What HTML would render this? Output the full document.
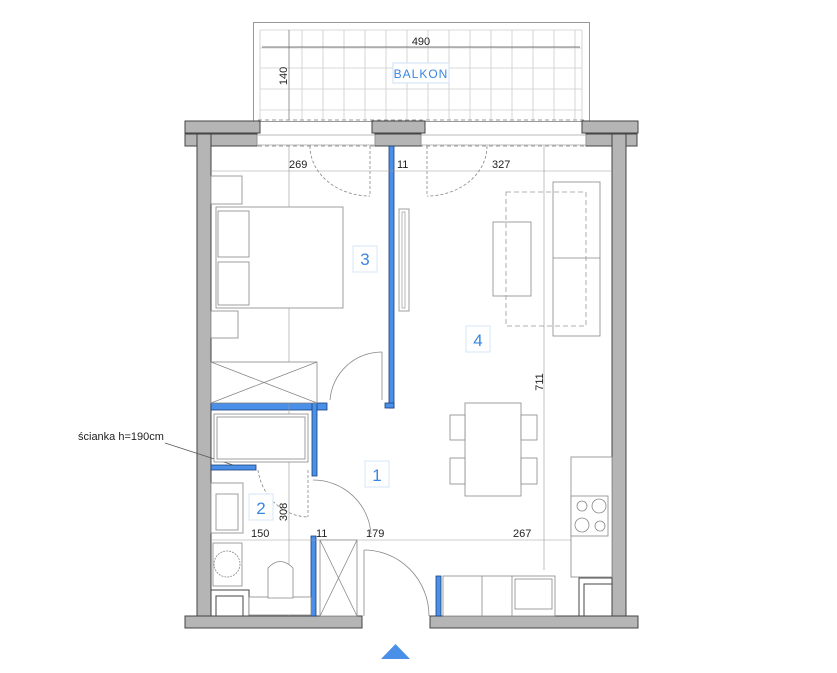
<!DOCTYPE html>
<html><head><meta charset="utf-8"><style>
html,body{margin:0;padding:0;background:#fff;}
svg{display:block;font-family:"Liberation Sans",sans-serif;}
</style></head><body>
<svg width="837" height="673" viewBox="0 0 837 673" xmlns="http://www.w3.org/2000/svg">
<!-- balcony -->
<rect x="253.5" y="22.5" width="336" height="99" fill="none" stroke="#999" stroke-width="1"/>
<g stroke="#ccc" stroke-width="0.8">
<line x1="260" y1="30" x2="260" y2="120"/><line x1="582" y1="30" x2="582" y2="120"/>
<line x1="260" y1="30" x2="582" y2="30"/>
<line x1="260" y1="48" x2="582" y2="48"/><line x1="260" y1="68" x2="582" y2="68"/>
<line x1="260" y1="89" x2="582" y2="89"/><line x1="260" y1="110" x2="582" y2="110"/>
<line x1="302" y1="30" x2="302" y2="120"/><line x1="323" y1="30" x2="323" y2="120"/><line x1="344" y1="30" x2="344" y2="120"/><line x1="365" y1="30" x2="365" y2="120"/><line x1="386" y1="30" x2="386" y2="120"/><line x1="407" y1="30" x2="407" y2="120"/><line x1="428" y1="30" x2="428" y2="120"/><line x1="449" y1="30" x2="449" y2="120"/><line x1="470" y1="30" x2="470" y2="120"/><line x1="491" y1="30" x2="491" y2="120"/><line x1="512" y1="30" x2="512" y2="120"/><line x1="533" y1="30" x2="533" y2="120"/><line x1="554" y1="30" x2="554" y2="120"/><line x1="575" y1="30" x2="575" y2="120"/>
</g>
<line x1="262" y1="47" x2="580" y2="47" stroke="#555" stroke-width="0.8"/>
<line x1="289" y1="30" x2="289" y2="120" stroke="#555" stroke-width="0.6"/>
<rect x="393" y="63" width="56" height="20" fill="#fff" stroke="#cfe0f5"/>
<text x="421" y="78" font-size="12" fill="#3a86e0" text-anchor="middle" letter-spacing="1">BALKON</text>
<text x="421" y="45" font-size="11" fill="#222" text-anchor="middle">490</text>
<text x="0" y="0" font-size="11" fill="#222" text-anchor="middle" transform="translate(287,76) rotate(-90)">140</text>
<line x1="258" y1="120" x2="585" y2="120" stroke="#999" stroke-dasharray="4,3"/>
<line x1="258" y1="146" x2="585" y2="146" stroke="#999" stroke-dasharray="4,3"/>
<!-- grey walls -->
<g fill="#b5b5b5" stroke="#444" stroke-width="1">
<rect x="185" y="121" width="75" height="12"/>
<rect x="185" y="134" width="72" height="12"/>
<rect x="372" y="121" width="53" height="12"/>
<rect x="375" y="134" width="46" height="12"/>
<rect x="582" y="121" width="56" height="12"/>
<rect x="586" y="134" width="51" height="12"/>
<rect x="197" y="134" width="14" height="494"/>
<rect x="612" y="134" width="14" height="494"/>
<rect x="185" y="616" width="177" height="12"/>
<rect x="430" y="616" width="208" height="12"/>
<rect x="211" y="590" width="38" height="26" fill="#fff"/>
<rect x="579" y="578" width="33" height="38" fill="#fff"/>
</g>
<rect x="216" y="596" width="27" height="20" fill="#fff" stroke="#444"/>
<rect x="584" y="584" width="28" height="32" fill="#fff" stroke="#444"/>
<!-- windows -->
<g stroke="#aaa" fill="none" stroke-width="0.8">
<rect x="257" y="135" width="118" height="10"/><rect x="421" y="135" width="165" height="10"/>
</g>
<!-- blue walls -->
<g fill="#4a90e8" stroke="#1a3f7a" stroke-width="0.8">
<rect x="389" y="146" width="5" height="262"/>
<rect x="385" y="403" width="9" height="5"/>
<rect x="211" y="403" width="116" height="7"/>
<rect x="312" y="403" width="5" height="73"/>
<rect x="211" y="465" width="45" height="5"/>
<rect x="311" y="536" width="5" height="80"/>
<rect x="436" y="576" width="5" height="40"/>
</g>
<rect x="399" y="209" width="10" height="102" fill="#fff" stroke="#888" stroke-width="0.8"/>
<rect x="402" y="212" width="3" height="96" fill="#fff" stroke="#888" stroke-width="0.6"/>
<!-- doors -->
<g fill="none" stroke="#888" stroke-width="0.8" stroke-dasharray="3,2">
<path d="M310 146 A60 50 0 0 0 370 196"/><line x1="370" y1="146" x2="370" y2="196"/>
<path d="M487 146 A60 50 0 0 1 427 196"/><line x1="427" y1="146" x2="427" y2="196"/>
<path d="M258 470 A52 55 0 0 0 308 517"/><line x1="308" y1="470" x2="308" y2="517"/>
</g>
<g fill="none" stroke="#888" stroke-width="0.8">
<path d="M330 400 A52 52 0 0 1 382 352"/><line x1="382" y1="352" x2="382" y2="400"/>
<path d="M364 550 A65 66 0 0 1 429 616"/><line x1="364" y1="550" x2="364" y2="616"/>
<path d="M313 480 A58 58 0 0 1 371 534"/>
</g>
<!-- dim lines -->
<g stroke="#999" stroke-width="0.6">
<line x1="212" y1="171" x2="611" y2="171"/>
<line x1="212" y1="540" x2="611" y2="540"/>
<line x1="289" y1="146" x2="289" y2="616"/>
<line x1="544" y1="146" x2="544" y2="570"/>
</g>
<g font-size="11" fill="#222">
<text x="289" y="168">269</text><text x="397" y="168">11</text><text x="492" y="168">327</text>
<text x="251" y="537">150</text><text x="316" y="537">11</text><text x="366" y="537">179</text><text x="513" y="537">267</text>
<text transform="translate(287,278) rotate(-90)" text-anchor="middle">388</text>
<text transform="translate(543,382) rotate(-90)" text-anchor="middle">711</text>
<text transform="translate(287,395) rotate(-90)" text-anchor="middle">15</text>
<text transform="translate(287,512) rotate(-90)" text-anchor="middle">308</text>
<text x="78" y="440">ścianka h=190cm</text>
</g>
<line x1="165" y1="443" x2="233" y2="465" stroke="#555" stroke-width="0.7"/>
<!-- furniture -->
<g fill="#fff" stroke="#888" stroke-width="0.8">
<rect x="211" y="176" width="31" height="28"/><rect x="211" y="311" width="27" height="27"/>
<rect x="216" y="207" width="127" height="101"/>
<rect x="218" y="211" width="31" height="46"/><rect x="218" y="262" width="31" height="43"/>
<rect x="553" y="182" width="47" height="154"/><line x1="553" y1="258" x2="600" y2="258"/>
<rect x="493" y="222" width="38" height="74"/>
<rect x="211" y="362" width="106" height="41"/>
<line x1="211" y1="362" x2="317" y2="403"/><line x1="211" y1="403" x2="317" y2="362"/>
<rect x="214" y="414" width="94" height="48"/><rect x="217" y="417" width="88" height="42"/>
<rect x="211" y="483" width="32" height="50"/><rect x="216" y="494" width="22" height="36"/>
<rect x="213" y="543" width="29" height="43"/><circle cx="227" cy="564" r="13" stroke-dasharray="2,1"/>
<rect x="249" y="597" width="62" height="18"/>
<path d="M268 598 L268 568 Q280 555 293 568 L293 598 Z"/>
<rect x="320" y="540" width="37" height="76"/>
<line x1="320" y1="540" x2="357" y2="616"/><line x1="357" y1="540" x2="320" y2="616"/>
<rect x="465" y="403" width="56" height="93"/>
<rect x="450" y="415" width="15" height="25"/><rect x="450" y="458" width="15" height="26"/>
<rect x="521" y="415" width="16" height="25"/><rect x="521" y="458" width="16" height="26"/>
<rect x="571" y="457" width="41" height="120"/>
<rect x="571" y="496" width="37" height="40"/>
<circle cx="582" cy="506" r="5"/><circle cx="599" cy="506" r="7"/><circle cx="582" cy="525" r="7"/><circle cx="600" cy="526" r="5"/>
<rect x="443" y="576" width="112" height="40"/>
<line x1="482" y1="576" x2="482" y2="616"/><line x1="512" y1="576" x2="512" y2="616"/>
<rect x="515" y="579" width="37" height="30"/>
</g>
<rect x="506" y="192" width="80" height="134" fill="none" stroke="#999" stroke-dasharray="5,3" stroke-width="0.8"/>
<!-- room labels -->
<g font-size="17" fill="#3a86e0" text-anchor="middle">
<rect x="353" y="246" width="24" height="26" fill="#fff" stroke="#d4e4f7"/><text x="365" y="265">3</text>
<rect x="466" y="326" width="24" height="26" fill="#fff" stroke="#d4e4f7"/><text x="478" y="346">4</text>
<rect x="365" y="461" width="24" height="26" fill="#fff" stroke="#d4e4f7"/><text x="377" y="481">1</text>
<rect x="249" y="494" width="24" height="26" fill="#fff" stroke="#d4e4f7"/><text x="261" y="514">2</text>
</g>
<polygon points="381,659 410,659 395.5,644" fill="#4a90e8"/>
</svg>
</body></html>
